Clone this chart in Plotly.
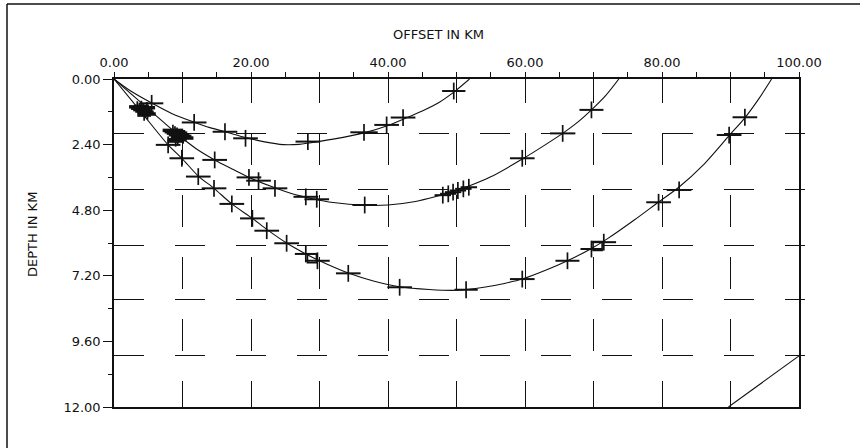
import plotly.graph_objects as go

# ---------------- data ----------------
# smooth ray curves (offset km, depth km)
c1_x = [0, 2.5, 5.5, 8.5, 11.7, 14, 16.2, 19.2, 22, 24.7, 27, 28.5, 32, 36.5, 39.8, 42.2, 45, 47.5, 49.6, 51.9]
c1_d = [0, 0.45, 0.88, 1.27, 1.58, 1.78, 1.93, 2.14, 2.3, 2.4, 2.39, 2.34, 2.2, 1.97, 1.72, 1.47, 1.17, 0.85, 0.48, 0]

c2_x = [0, 4.8, 9.4, 12, 14.7, 17.5, 19.7, 23.5, 26, 28.8, 32, 36.6, 40, 44, 47, 49.5, 52, 55, 59.6, 63, 65.5, 67.7, 69.7, 71.8, 73.7]
c2_d = [0, 1.05, 2.05, 2.55, 2.96, 3.32, 3.6, 3.98, 4.2, 4.37, 4.52, 4.62, 4.61, 4.48, 4.3, 4.12, 3.9, 3.58, 2.93, 2.4, 1.99, 1.58, 1.13, 0.6, 0]

c3_x = [0, 4.0, 7.9, 9.9, 12.3, 14.6, 17.2, 20.2, 22.3, 25.2, 28, 30, 34.2, 38, 41.7, 46, 50, 54, 57, 59.6, 63, 66.2, 69.7, 72, 76, 79.5, 82.5, 86, 89.8, 92.1, 94.2, 96]
c3_d = [0, 1.22, 2.41, 2.9, 3.55, 4.0, 4.57, 5.1, 5.5, 6.0, 6.4, 6.65, 7.1, 7.4, 7.6, 7.7, 7.73, 7.62, 7.48, 7.32, 7.0, 6.65, 6.2, 5.85, 5.15, 4.5, 3.95, 3.15, 2.07, 1.42, 0.7, 0]

# observed picks with horizontal uncertainty (km)
p1_x = [5.5, 11.7, 16.2, 19.2, 28.3, 36.5, 39.8, 42.2, 49.6]
p1_d = [0.89, 1.59, 1.93, 2.17, 2.29, 1.95, 1.68, 1.41, 0.44]
p1_e = [1.7, 1.8, 1.8, 1.8, 1.8, 2.0, 1.8, 1.8, 1.7]

p2_x = [14.7, 19.7, 21.1, 23.5, 28.0, 29.6, 36.6,
        48.0, 48.8, 49.5, 50.2, 51.0, 51.8, 59.6, 65.5, 69.7]
p2_d = [2.96, 3.6, 3.72, 4.0, 4.31, 4.4, 4.61,
        4.25, 4.2, 4.14, 4.08, 4.02, 3.96, 2.9, 1.99, 1.13]
p2_e = [1.8, 1.8, 1.8, 1.8, 1.8, 1.8, 1.8,
        1.2, 1.2, 1.2, 1.2, 1.2, 1.2, 1.8, 1.85, 1.75]

p3_x = [7.9, 9.9, 12.3, 14.6, 17.2, 20.2, 22.3, 25.2, 28.0, 29.7, 34.2,
        41.7, 51.4, 59.6, 66.2, 69.7, 71.5, 79.5, 82.5, 89.8, 92.1]
p3_d = [2.41, 2.9, 3.57, 4.0, 4.57, 5.1, 5.55, 6.01, 6.4, 6.65, 7.11,
        7.62, 7.71, 7.32, 6.65, 6.22, 5.97, 4.51, 4.06, 2.05, 1.4]
p3_e = [1.8, 1.8, 1.8, 1.8, 1.8, 1.8, 1.8, 1.8, 1.6, 1.8, 1.8,
        1.8, 1.7, 1.8, 1.75, 1.6, 1.8, 1.8, 1.8, 1.8, 1.8]

# dense clusters of picks near the source (drawn as solid blobs)
b1_x = [3.4, 3.7, 4.0, 4.3, 4.6, 4.9, 4.4, 4.0, 4.8]
b1_d = [1.02, 1.07, 1.12, 1.17, 1.22, 1.28, 1.32, 1.0, 1.05]
b1_e = [1.2, 1.2, 1.2, 1.2, 1.2, 1.2, 1.0, 1.1, 1.2]

b2_x = [8.6, 8.9, 9.2, 9.5, 9.8, 10.1, 9.3, 9.0]
b2_d = [1.88, 1.93, 1.98, 2.04, 2.1, 2.16, 2.22, 2.27]
b2_e = [1.5, 1.5, 1.5, 1.5, 1.5, 1.5, 1.3, 1.2]

# open square markers
sq_x = [28.9, 70.6]
sq_d = [6.56, 6.11]

# diagonal line at bottom right
diag_x = [89.7, 100]
diag_d = [12, 10.13]

# grid positions
xgrid = [10, 20, 30, 40, 50, 60, 70, 80, 90]
ygrid = [2.0, 4.04, 6.1, 8.05, 10.13]

# ---------------- figure ----------------
INK = "#111111"
FONT = "DejaVu Sans"
W, H = 860, 448
L, R, T, B = 114, 61, 79, 41
PW, PH = W - L - R, H - T - B

fig = go.Figure()

for cx, cd in [(c1_x, c1_d), (c2_x, c2_d), (c3_x, c3_d)]:
    fig.add_trace(go.Scatter(x=cx, y=cd, mode="lines",
                             line=dict(color=INK, width=1.1, shape="spline", smoothing=0.8),
                             hoverinfo="skip", showlegend=False))

for px_, pd_, pe_, th, ms in [(p1_x, p1_d, p1_e, 2, 12), (p2_x, p2_d, p2_e, 2, 12),
                              (p3_x, p3_d, p3_e, 2, 12),
                              (b1_x, b1_d, b1_e, 3.5, 8), (b2_x, b2_d, b2_e, 3.5, 8)]:
    fig.add_trace(go.Scatter(
        x=px_, y=pd_, mode="markers",
        marker=dict(symbol="line-ns", size=ms, color=INK, line=dict(color=INK, width=1.7)),
        error_x=dict(type="data", array=pe_, symmetric=True, thickness=th, width=0, color=INK),
        hoverinfo="skip", showlegend=False))

fig.add_trace(go.Scatter(x=sq_x, y=sq_d, mode="markers",
                         marker=dict(symbol="square-open", size=9, color=INK,
                                     line=dict(color=INK, width=1.6)),
                         hoverinfo="skip", showlegend=False))

fig.add_trace(go.Scatter(x=diag_x, y=diag_d, mode="lines",
                         line=dict(color=INK, width=1.1), hoverinfo="skip", showlegend=False))

# dummy trace to activate overlay grid axes
fig.add_trace(go.Scatter(x=[50], y=[6], xaxis="x2", yaxis="y2", mode="markers",
                         marker=dict(opacity=0), hoverinfo="skip", showlegend=False))

tickfont = dict(family=FONT, size=13, color=INK)

fig.update_layout(
    width=W, height=H,
    margin=dict(l=L, r=R, t=T, b=B),
    paper_bgcolor="white", plot_bgcolor="white",
    xaxis=dict(range=[0, 100], side="top", dtick=20, tick0=0, tickformat=".2f",
               ticks="outside", ticklen=5, tickwidth=1.2, tickcolor=INK,
               minor=dict(dtick=5, ticks="outside", ticklen=5, tickwidth=1.2, tickcolor=INK, showgrid=False),
               showline=True, linecolor=INK, linewidth=1.5, mirror=True,
               showgrid=False, zeroline=False, tickfont=tickfont, fixedrange=True),
    yaxis=dict(range=[12, 0], dtick=2.4, tick0=0, tickformat=".2f",
               ticks="outside", ticklen=9, tickwidth=1.2, tickcolor=INK,
               minor=dict(dtick=1.2, ticks="outside", ticklen=4, tickwidth=1.2, tickcolor=INK, showgrid=False),
               showline=True, linecolor=INK, linewidth=1.5, mirror=True,
               showgrid=False, zeroline=False, tickfont=tickfont, fixedrange=True),
    xaxis2=dict(range=[0, 100], overlaying="x", anchor="y2", side="bottom",
                tickmode="array", tickvals=xgrid, showticklabels=False, ticks="",
                showgrid=True, gridcolor=INK, gridwidth=1.1,
                griddash="24px,30px,32px,30px,32px,30px,32px,30px,32px,30px,32px,30px",
                showline=False, zeroline=False, fixedrange=True),
    yaxis2=dict(range=[12, 0], overlaying="y", anchor="x2", side="right",
                tickmode="array", tickvals=ygrid, showticklabels=False,
                ticks="outside", ticklen=5, tickwidth=1.2, tickcolor=INK,
                showgrid=True, gridcolor=INK, gridwidth=1.1, griddash="30px,31px",
                showline=False, zeroline=False, fixedrange=True),
    annotations=[
        dict(text="OFFSET IN KM", xref="paper", yref="paper",
             x=(438 - L) / PW, y=1 + (T - 35) / PH, xanchor="center", yanchor="middle",
             showarrow=False, font=dict(family=FONT, size=13, color=INK)),
        dict(text="DEPTH IN KM", xref="paper", yref="paper",
             x=(32 - L) / PW, y=1 - (235 - T) / PH, xanchor="center", yanchor="middle",
             textangle=-90, showarrow=False, font=dict(family=FONT, size=13, color=INK)),
    ],
    shapes=[
        # outer frame (top and left edges visible)
        dict(type="line", xref="paper", yref="paper",
             x0=(7 - L) / PW, x1=(W + 5 - L) / PW, y0=1 + (T - 4) / PH, y1=1 + (T - 4) / PH,
             line=dict(color=INK, width=1.5)),
        dict(type="line", xref="paper", yref="paper",
             x0=(7 - L) / PW, x1=(7 - L) / PW, y0=1 + (T - 4) / PH, y1=-(B + 5) / PH,
             line=dict(color=INK, width=1.5)),
    ],
)

fig.write_html("out.html")
